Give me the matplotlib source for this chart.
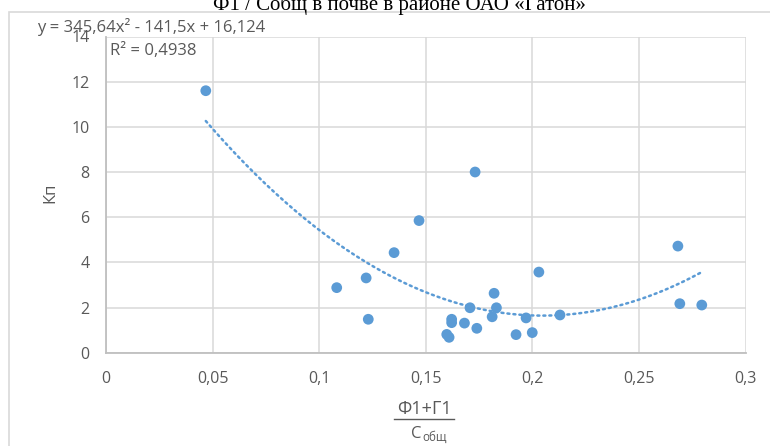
import numpy as np
import matplotlib.pyplot as plt
from matplotlib.lines import Line2D
from matplotlib.patches import Rectangle

# Data
x_vals = [0.0468, 0.1082, 0.1220, 0.1230, 0.1351, 0.1468, 0.1731, 0.2682,
          0.2030, 0.1820, 0.1707, 0.1831, 0.1811, 0.1621, 0.1621, 0.1681,
          0.1739, 0.1598, 0.1609, 0.1923, 0.1999, 0.1970, 0.2129, 0.2691,
          0.2794]
y_vals = [11.60, 2.88, 3.31, 1.48, 4.43, 5.85, 8.00, 4.72,
          3.57, 2.63, 1.99, 1.99, 1.59, 1.48, 1.33, 1.31,
          1.08, 0.81, 0.68, 0.80, 0.89, 1.54, 1.67, 2.17,
          2.11]

# Trend line coefficients as printed on the chart
coef_a, coef_b, coef_c = 345.64, -141.5, 16.124

x_ticks = [0, 0.05, 0.1, 0.15, 0.2, 0.25, 0.3]
x_tick_labels = ['0', '0,05', '0,1', '0,15', '0,2', '0,25', '0,3']
y_ticks = [0, 2, 4, 6, 8, 10, 12, 14]

title = 'Ф1 / Собщ в почве в районе ОАО «Гатон»'
eq_text = 'y = 345,64x² - 141,5x + 16,124'
r2_text = 'R² = 0,4938'

W, H = 770, 446
blue = '#5b9bd5'
grey_txt = '#595959'
fnt = ['Open Sans', 'DejaVu Sans']


def fx(px):
    return px / W


def fy(py):
    return 1 - py / H


def main():
    fig = plt.figure(figsize=(W / 100, H / 100), dpi=100)

    # outer chart border
    fig.add_artist(Rectangle((fx(9), -0.1), 1.2, fy(12.3) + 0.1,
                             transform=fig.transFigure, fill=False,
                             edgecolor='#d9d9d9', lw=1.2))

    ax = fig.add_axes([fx(106), fy(352.7), fx(745.7) - fx(106), fy(36.5) - fy(352.7)])
    ax.set_xlim(0, 0.3)
    ax.set_ylim(0, 14)
    ax.set_xticks(x_ticks)
    ax.set_xticklabels(x_tick_labels)
    ax.set_yticks(y_ticks)
    ax.grid(True, color='#d9d9d9', lw=1.1)
    ax.set_axisbelow(True)
    for s in ['top', 'right']:
        ax.spines[s].set_visible(False)
    for s in ['left', 'bottom']:
        ax.spines[s].set_color('#bfbfbf')
        ax.spines[s].set_linewidth(1.3)
    ax.tick_params(length=0, colors=grey_txt, labelsize=11.5)
    ax.tick_params(axis='x', pad=13)
    ax.tick_params(axis='y', pad=12)
    for lab in ax.get_xticklabels() + ax.get_yticklabels():
        lab.set_family(fnt)

    # trend line over the data range
    xt = np.linspace(min(x_vals), max(x_vals), 200)
    yt = coef_a * xt ** 2 + coef_b * xt + coef_c
    ax.plot(xt, yt, color=blue, lw=1.8, linestyle=(0, (0.8, 1.6)),
            dash_capstyle='round', zorder=2)

    ax.scatter(x_vals, y_vals, s=60, color=blue, edgecolors='none', zorder=3)

    # texts
    fig.text(fx(399), fy(10), title, ha='center', va='baseline',
             family='Liberation Serif', fontsize=15, color='black')
    fig.text(fx(37), fy(27), eq_text, ha='left', va='center',
             family=fnt, fontsize=12, color=grey_txt)
    fig.text(fx(110), fy(51), r2_text, ha='left', va='center',
             family=fnt, fontsize=12, color=grey_txt)

    fig.text(fx(50), fy(193), 'Кп', rotation=90, ha='center', va='center',
             family=fnt, fontsize=12, color=grey_txt)

    # x label as a fraction
    fig.text(fx(424), fy(409), 'Ф1+Г1', ha='center', va='center',
             family=fnt, fontsize=13, color=grey_txt)
    fig.add_artist(Line2D([fx(394), fx(454)], [fy(419), fy(419)],
                          transform=fig.transFigure, color=grey_txt, lw=1))
    fig.text(fx(416), fy(434), 'С', ha='center', va='center',
             family=fnt, fontsize=12, color=grey_txt)
    fig.text(fx(422), fy(437.5), 'общ', ha='left', va='center',
             family=fnt, fontsize=8.5, color=grey_txt)

    fig.savefig('out.png', dpi=100)


if __name__ == "__main__":
    main()
